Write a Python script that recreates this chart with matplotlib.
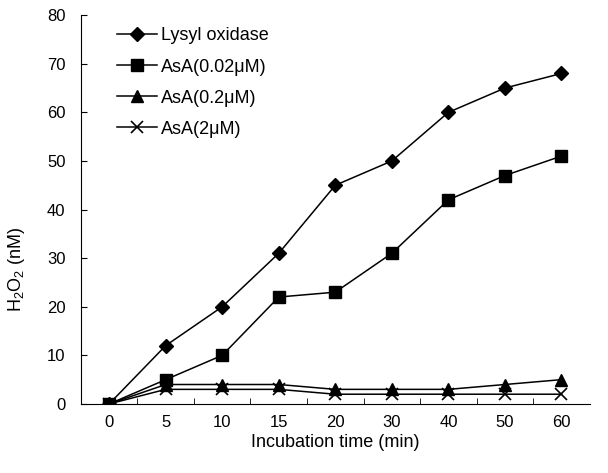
import numpy as np
import matplotlib
matplotlib.use('Agg')
import matplotlib.pyplot as plt

plt.rcParams['font.family'] = ['Liberation Sans', 'DejaVu Sans']
plt.rcParams['mathtext.fontset'] = 'custom'
plt.rcParams['mathtext.rm'] = 'Liberation Sans'
plt.rcParams['mathtext.it'] = 'Liberation Sans'

# Data
times = ['0', '5', '10', '15', '20', '30', '40', '50', '60']
lysyl = [0, 12, 20, 31, 45, 50, 60, 65, 68]
asa_002 = [0, 5, 10, 22, 23, 31, 42, 47, 51]
asa_02 = [0, 4, 4, 4, 3, 3, 3, 4, 5]
asa_2 = [0, 3, 3, 3, 2, 2, 2, 2, 2]

fig = plt.figure(figsize=(6.08, 4.73), dpi=100)
ax = fig.add_axes([0.133, 0.146, 0.837, 0.822])

x = np.arange(len(times))
ax.plot(x, lysyl, color='black', lw=1.1, marker='D', ms=7, label='Lysyl oxidase')
ax.plot(x, asa_002, color='black', lw=1.1, marker='s', ms=8.5, label='AsA(0.02\u03bcM)')
ax.plot(x, asa_02, color='black', lw=1.1, marker='^', ms=8.5, label='AsA(0.2\u03bcM)')
ax.plot(x, asa_2, color='black', lw=1.1, marker='x', ms=8.5, mew=1.2, label='AsA(2\u03bcM)')

ax.set_xlim(-0.5, len(times) - 0.5)
ax.set_ylim(0, 80)
ax.set_yticks(np.arange(0, 81, 10))
ax.set_xticks(x)
ax.set_xticklabels(times)
ax.set_xticks(np.arange(0.5, len(times) - 1, 1), minor=True)
ax.tick_params(axis='x', which='major', length=0, labelsize=12, pad=8)
ax.tick_params(axis='x', which='minor', direction='in', length=4)
ax.tick_params(axis='y', direction='in', length=4, labelsize=12, pad=11)

for s in ['top', 'right']:
    ax.spines[s].set_visible(False)

ax.set_xlabel('Incubation time (min)', fontsize=13, labelpad=3)
ax.set_ylabel('H$_2$O$_2$ (nM)', fontsize=13)
ax.yaxis.set_label_coords(-0.105, 0.345)

ax.legend(loc='upper left', bbox_to_anchor=(0.04, 1.01), frameon=False, fontsize=13,
          handlelength=2.2, handletextpad=0.2, labelspacing=0.78)

plt.savefig('out.png', dpi=100)
